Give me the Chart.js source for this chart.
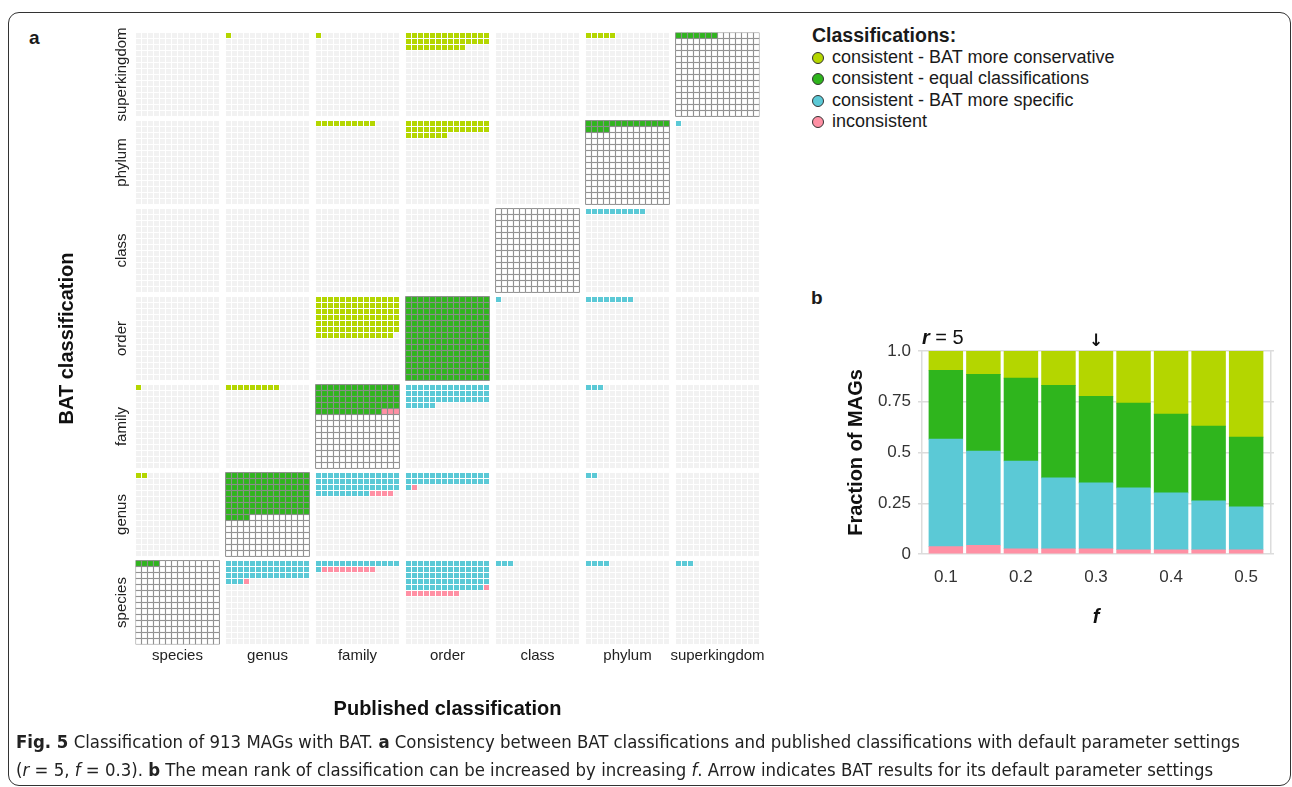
<!DOCTYPE html>
<html><head><meta charset="utf-8">
<script src="https://cdn.jsdelivr.net/npm/chart.js@4.4.1/dist/chart.umd.min.js"></script>
<style>
html,body{margin:0;padding:0;background:#fff;width:1292px;height:787px;overflow:hidden;font-family:"Liberation Sans",Arial,sans-serif;color:#1a1a1a}
#frame{position:absolute;left:8px;top:12px;width:1283px;height:774px;border:1.3px solid #333;border-radius:11px;box-sizing:border-box}
#waffleWrap{position:absolute;left:0;top:0}
#barWrap{position:absolute;left:800px;top:300px}
.panel{position:absolute;font-weight:bold;font-size:19px;line-height:22px}
#legend{position:absolute;left:812px;top:25px;font-size:18px;line-height:21.5px;color:#1a1a1a}
#legend .t{font-weight:bold;height:21.5px;font-size:19.5px}
#legend .li{height:21.5px;white-space:nowrap}
#legend .dot{display:inline-block;width:12px;height:12px;border-radius:50%;border:1px solid #333;box-sizing:border-box;margin-right:8px;vertical-align:-1px}
#caption{position:absolute;left:16px;top:728px;font-family:"Liberation Sans Narrow","DejaVu Sans Condensed","Roboto Condensed",sans-serif;font-stretch:condensed;font-size:18.4px;line-height:28px;color:#222;white-space:nowrap}
</style></head>
<body>
<div id="frame"></div>
<div class="panel" style="left:29px;top:27px">a</div>
<div class="panel" style="left:811px;top:287px">b</div>
<div id="waffleWrap"><canvas id="waffle" width="800" height="730"></canvas></div>
<div id="barWrap"><canvas id="bars" width="492" height="340"></canvas></div>
<div id="legend"></div>
<div id="caption">
<div id="cap1"><b>Fig. 5</b> Classification of 913 MAGs with BAT. <b>a</b> Consistency between BAT classifications and published classifications with default parameter settings</div>
<div id="cap2">(<i>r</i> = 5, <i>f</i> = 0.3). <b>b</b> The mean rank of classification can be increased by increasing <i>f</i>. Arrow indicates BAT results for its default parameter settings</div>
</div>
<script>
// ---------- DATA ----------
const ranks = ['species','genus','family','order','class','phylum','superkingdom'];
const classNames = ['consistent - BAT more conservative','consistent - equal classifications','consistent - BAT more specific','inconsistent'];
const classColors = ['#b4d600','#2fb51d','#5bc9d6','#ff90a4'];

// Panel a: number of MAGs, rows = BAT rank, columns = published rank (order of `ranks`)
const conservative = [
  [0,0,0,0,0,0,0],
  [2,0,0,0,0,0,0],
  [1,9,0,0,0,0,0],
  [0,0,97,0,0,0,0],
  [0,0,0,0,0,0,0],
  [0,0,10,35,0,0,0],
  [0,1,1,38,0,5,0]
];
const equal = [
  [4,0,0,0,0,0,0],
  [0,102,0,0,0,0,0],
  [0,0,67,0,0,0,0],
  [0,0,0,197,0,0,0],
  [0,0,0,0,0,0,0],
  [0,0,0,0,0,18,0],
  [0,0,0,0,0,0,7]
];
const specific = [
  [0,45,15,69,3,4,3],
  [0,0,51,29,0,2,0],
  [0,0,0,47,0,3,0],
  [0,0,0,0,1,8,0],
  [0,0,0,0,0,10,0],
  [0,0,0,0,0,0,1],
  [0,0,0,0,0,0,0]
];
const inconsistent = [
  [0,1,9,10,0,0,0],
  [0,0,4,1,0,0,0],
  [0,0,3,0,0,0,0],
  [0,0,0,0,0,0,0],
  [0,0,0,0,0,0,0],
  [0,0,0,0,0,0,0],
  [0,0,0,0,0,0,0]
];

// Panel b: fraction of MAGs per f (r = 5)
const fValues = [0.1,0.15,0.2,0.25,0.3,0.35,0.4,0.45,0.5];
const inconsistentFrac = [0.036,0.043,0.026,0.026,0.026,0.021,0.021,0.021,0.021];
const specificFrac     = [0.530,0.464,0.432,0.349,0.324,0.305,0.280,0.241,0.211];
const equalFrac        = [0.339,0.378,0.408,0.456,0.427,0.417,0.388,0.368,0.344];
const conservativeFrac = [0.095,0.115,0.134,0.169,0.223,0.257,0.311,0.370,0.424];
const fTickValues = [0.1,0.2,0.3,0.4,0.5];
const fTickLabels = ['0.1','0.2','0.3','0.4','0.5'];
const yTickValues = [0,0.25,0.5,0.75,1];
const yTickLabels = ['0','0.25','0.5','0.75','1.0'];
const defaultF = 0.3;
const defaultR = 5;

// ---------- LEGEND ----------
const lg = document.getElementById('legend');
lg.innerHTML = '<div class="t">Classifications:</div>' + classNames.map((n,i)=>
  '<div class="li"><span class="dot" style="background:'+classColors[i]+'"></span>'+n+'</div>').join('');

// ---------- PANEL A (waffle) ----------
const SIDE = 14, CAP = SIDE*SIDE, STEPX = 15, STEPY = 14.667;
const matrices = [conservative, equal, specific, inconsistent];
const filled = matrices.map(()=>[]);
const emptyOff = [], emptyDiag = [];
function sq(col,row,k,d){ return {x: col*STEPX + (k%SIDE), y: row*STEPY + Math.floor(k/SIDE), d: d}; }
for (let b=0;b<ranks.length;b++){
  for (let p=0;p<ranks.length;p++){
    const diag = b===p, row = ranks.length-1-b;
    let k = 0;
    matrices.forEach((m,ci)=>{
      const n = Math.min(m[b][p], CAP-k);
      for (let i=0;i<n;i++){ filled[ci].push(sq(p,row,k,diag)); k++; }
    });
    for (;k<CAP;k++) (diag?emptyDiag:emptyOff).push(sq(p,row,k,diag));
  }
}
const rad = c => (c.raw && c.raw.d) ? 4.15 : 3.55;
const bw = c => (c.raw && c.raw.d) ? 1 : 0;
const wDatasets = filled.map((pts,ci)=>({
  label: classNames[ci], data: pts, backgroundColor: classColors[ci],
  borderColor: '#8e8e8e', pointStyle:'rect', pointRadius: rad, borderWidth: bw
}));
wDatasets.push({label:'empty-diag', data: emptyDiag, backgroundColor:'#ffffff', borderColor:'#8e8e8e', pointStyle:'rect', pointRadius: rad, borderWidth: 1});
wDatasets.push({label:'empty', data: emptyOff, backgroundColor:'#f2f2f2', borderColor:'#f2f2f2', pointStyle:'rect', pointRadius: rad, borderWidth: 0});

const rankLabels = {
  id:'rankLabels',
  afterDraw(chart){
    const ctx = chart.ctx, ys = chart.scales.y;
    ctx.save();
    ctx.font = '15px "Liberation Sans", Arial, sans-serif';
    ctx.fillStyle = '#222'; ctx.textAlign='center'; ctx.textBaseline='middle';
    ranks.forEach((r,i)=>{
      const yp = ys.getPixelForValue((ranks.length-1-i)*STEPY + (SIDE-1)/2);
      ctx.save(); ctx.translate(chart.chartArea.left-13.5, yp); ctx.rotate(-Math.PI/2);
      ctx.fillText(r,0,0); ctx.restore();
    });
    ctx.restore();
  }
};

new Chart(document.getElementById('waffle'), {
  type:'scatter',
  data:{datasets: wDatasets},
  options:{
    responsive:false, animation:false, events:[],
    layout:{padding:{left:20, top:32.5, right:40.5, bottom:0}},
    plugins:{legend:{display:false}, tooltip:{enabled:false}},
    scales:{
      x:{type:'linear', min:-0.5, max:(ranks.length-1)*STEPX+SIDE-0.5,
        afterBuildTicks: s=>{ s.ticks = ranks.map((r,i)=>({value:i*STEPX+(SIDE-1)/2})); },
        afterFit: s=>{ s.height = 85.5; },
        ticks:{autoSkip:false, maxRotation:0, padding:2, color:'#222', font:{size:15, family:'"Liberation Sans", Arial, sans-serif'},
          callback:(v,i)=>ranks[i]},
        grid:{display:false, drawTicks:false}, border:{display:false},
        title:{display:true, text:'Published classification', color:'#111', font:{size:20, weight:'bold', family:'"Liberation Sans", Arial, sans-serif'}, padding:{top:0,bottom:9}}
      },
      y:{type:'linear', reverse:true, min:-0.5, max:(ranks.length-1)*STEPY+SIDE-0.5,
        afterFit: s=>{ s.width = 115.5; },
        ticks:{display:false}, grid:{display:false, drawTicks:false}, border:{display:false},
        title:{display:true, text:'BAT classification', color:'#111', font:{size:20, weight:'bold', family:'"Liberation Sans", Arial, sans-serif'}, padding:{top:35,bottom:0}}
      }
    }
  },
  plugins:[rankLabels]
});

// ---------- PANEL B (stacked bars) ----------
const gridEdges = [0.068, 0.533];
const barNotes = {
  id:'barNotes',
  afterDraw(chart){
    const ctx = chart.ctx, xs = chart.scales.x, a = chart.chartArea;
    ctx.save();
    ctx.fillStyle = '#111'; ctx.textBaseline='middle';
    ctx.font = 'bold 17px "DejaVu Sans", sans-serif'; ctx.textAlign='center';
    ctx.fillText('\u2193', xs.getPixelForValue(defaultF), a.top-9);
    ctx.textAlign='left';
    ctx.font = 'italic bold 20px "Liberation Sans", Arial, sans-serif';
    const x0 = a.left+4, y0 = a.top-13;
    ctx.fillText('r', x0, y0);
    const w = ctx.measureText('r').width;
    ctx.font = '20px "Liberation Sans", Arial, sans-serif';
    ctx.fillText(' = ' + defaultR, x0+w, y0);
    ctx.restore();
  }
};
const barSeries = [
  {label: classNames[3], vals: inconsistentFrac, color: classColors[3]},
  {label: classNames[2], vals: specificFrac, color: classColors[2]},
  {label: classNames[1], vals: equalFrac, color: classColors[1]},
  {label: classNames[0], vals: conservativeFrac, color: classColors[0]}
];
const bFont = {size:17, family:'"Liberation Sans", Arial, sans-serif'};
new Chart(document.getElementById('bars'), {
  type:'bar',
  data:{datasets: barSeries.map(s=>({label:s.label, data: fValues.map((f,i)=>({x:f, y:s.vals[i]})), backgroundColor:s.color, borderWidth:0,
    barThickness:33.8}))},
  options:{
    responsive:false, animation:false, events:[],
    layout:{padding:{left:0, right:18, top:51, bottom:6}},
    plugins:{legend:{display:false}, tooltip:{enabled:false}},
    scales:{
      x:{type:'linear', stacked:true, offset:false, min:0.0629, max:0.5371,
        afterBuildTicks: s=>{ s.ticks = [gridEdges[0], ...fTickValues, gridEdges[1]].map(v=>({value:v})); },
        afterFit: s=>{ s.height = 80; },
        ticks:{autoSkip:false, maxRotation:0, padding:13, color:'#333', font:bFont,
          callback:(v)=>{ const i = fTickValues.indexOf(v); return i>=0 ? fTickLabels[i] : ''; }},
        grid:{offset:false, drawTicks:false, lineWidth:1.5, color: c => (c.tick && gridEdges.includes(c.tick.value)) ? '#dcdcdc' : 'rgba(0,0,0,0)'},
        border:{display:false},
        title:{display:true, text:'f', color:'#111', font:{size:20, weight:'bold', style:'italic', family:'"Liberation Sans", Arial, sans-serif'}, padding:{top:0,bottom:5}}
      },
      y:{stacked:true, min:0, max:1,
        afterBuildTicks: s=>{ s.ticks = yTickValues.map(v=>({value:v})); },
        afterFit: s=>{ s.width = 118; },
        ticks:{padding:7, color:'#333', font:bFont, callback:(v)=>{ const i = yTickValues.indexOf(v); return i>=0 ? yTickLabels[i] : ''; }},
        grid:{drawTicks:false, lineWidth:1.5, color:'#dcdcdc'},
        border:{display:false},
        title:{display:true, text:'Fraction of MAGs', color:'#111', font:{size:20, weight:'bold', family:'"Liberation Sans", Arial, sans-serif'}, padding:{top:44,bottom:0}}
      }
    }
  },
  plugins:[barNotes]
});
</script>
</body></html>
